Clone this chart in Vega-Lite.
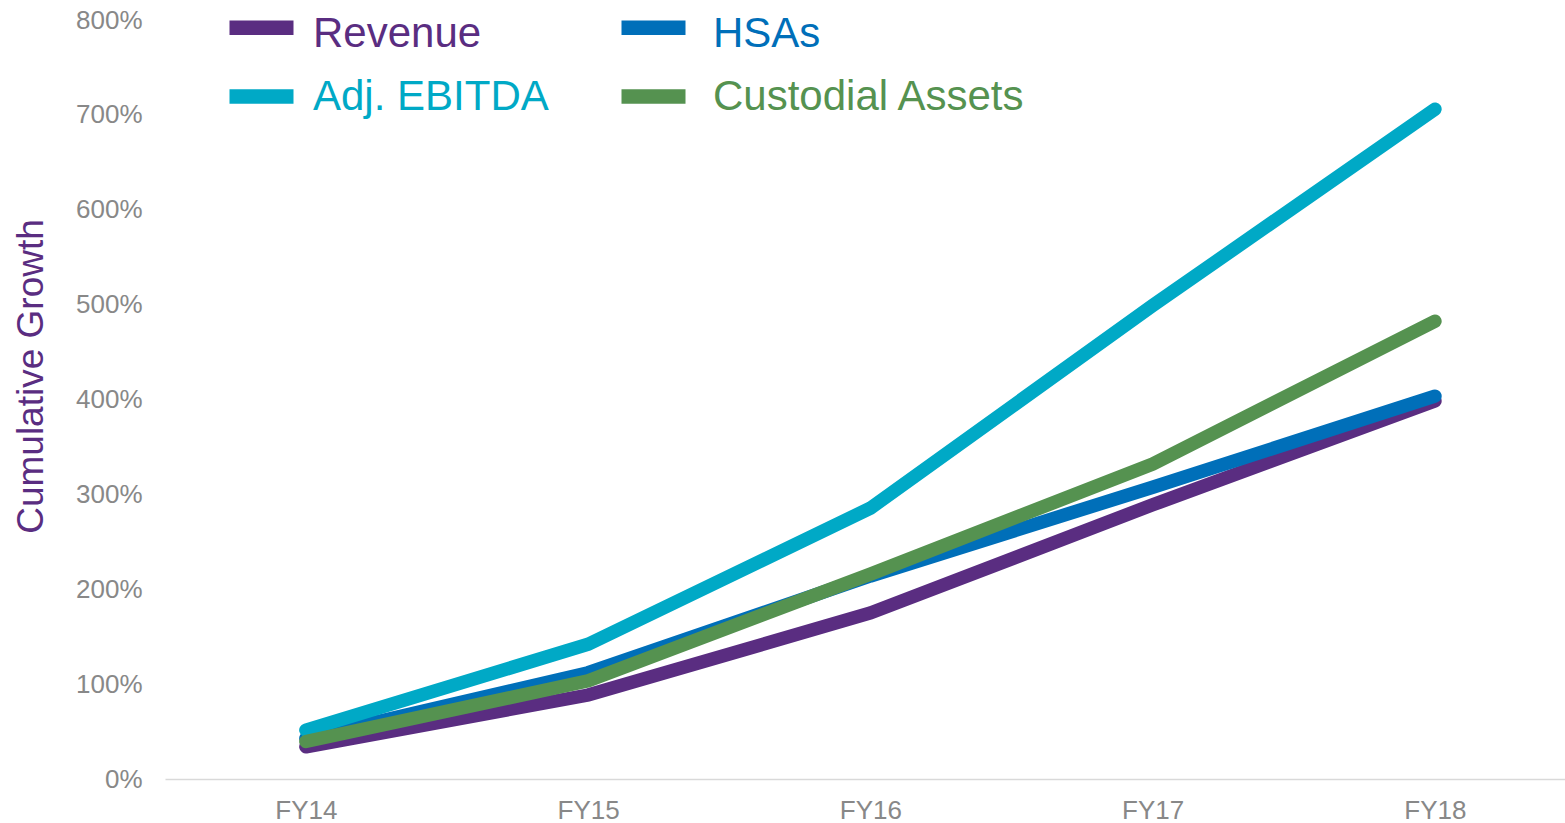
{
  "$schema": "https://vega.github.io/schema/vega-lite/v6.json",
  "autosize": "none",
  "padding": {"left": 165, "top": 20, "right": 0, "bottom": 44},
  "width": 1400,
  "height": 759,
  "background": "white",
  "config": {
    "font": "Liberation Sans",
    "view": {"stroke": null}
  },
  "data": {
    "values": [
      {"year": "FY14", "series": "Revenue", "growth": 0.34},
      {"year": "FY15", "series": "Revenue", "growth": 0.885},
      {"year": "FY16", "series": "Revenue", "growth": 1.75},
      {"year": "FY17", "series": "Revenue", "growth": 2.89},
      {"year": "FY18", "series": "Revenue", "growth": 3.985},
      {"year": "FY14", "series": "HSAs", "growth": 0.43},
      {"year": "FY15", "series": "HSAs", "growth": 1.12},
      {"year": "FY16", "series": "HSAs", "growth": 2.14},
      {"year": "FY17", "series": "HSAs", "growth": 3.075},
      {"year": "FY18", "series": "HSAs", "growth": 4.035},
      {"year": "FY14", "series": "Adj. EBITDA", "growth": 0.515},
      {"year": "FY15", "series": "Adj. EBITDA", "growth": 1.42},
      {"year": "FY16", "series": "Adj. EBITDA", "growth": 2.855},
      {"year": "FY17", "series": "Adj. EBITDA", "growth": 4.99},
      {"year": "FY18", "series": "Adj. EBITDA", "growth": 7.06},
      {"year": "FY14", "series": "Custodial Assets", "growth": 0.395},
      {"year": "FY15", "series": "Custodial Assets", "growth": 1.035},
      {"year": "FY16", "series": "Custodial Assets", "growth": 2.16},
      {"year": "FY17", "series": "Custodial Assets", "growth": 3.32},
      {"year": "FY18", "series": "Custodial Assets", "growth": 4.825}
    ]
  },
  "mark": {"type": "line", "strokeWidth": 13.5, "strokeCap": "round", "strokeJoin": "miter"},
  "encoding": {
    "x": {
      "field": "year",
      "type": "ordinal",
      "scale": {"type": "point", "padding": 0.48, "align": 0.52},
      "axis": {
        "title": null,
        "labelAngle": 0,
        "labelFontSize": 26,
        "labelColor": "#888888",
        "labelPadding": 18,
        "ticks": false,
        "grid": false,
        "domain": true,
        "domainColor": "#d9d9d9",
        "domainWidth": 1.5
      }
    },
    "y": {
      "field": "growth",
      "type": "quantitative",
      "scale": {"domain": [0, 8], "nice": false, "zero": true},
      "axis": {
        "values": [0, 1, 2, 3, 4, 5, 6, 7, 8],
        "format": ".0%",
        "grid": false,
        "domain": false,
        "ticks": false,
        "labelFontSize": 26,
        "labelColor": "#888888",
        "labelPadding": 23,
        "title": "Cumulative Growth",
        "titleFontSize": 37,
        "titleFontWeight": "normal",
        "titleColor": "#5A2D81",
        "titleAlign": "center",
        "titleBaseline": "alphabetic",
        "titleAngle": 270,
        "titleX": -123,
        "titleY": 356
      }
    },
    "color": {
      "field": "series",
      "type": "nominal",
      "sort": ["Revenue", "HSAs", "Adj. EBITDA", "Custodial Assets"],
      "scale": {
        "domain": ["Revenue", "HSAs", "Adj. EBITDA", "Custodial Assets"],
        "range": ["#5A2D81", "#006FB9", "#00A9C6", "#559250"]
      },
      "legend": {
        "title": null,
        "orient": "none",
        "legendX": 57,
        "legendY": -32,
        "direction": "horizontal",
        "columns": 2,
        "padding": 0,
        "symbolType": "stroke",
        "symbolSize": 4096,
        "symbolStrokeWidth": 14.5,
        "labelFontSize": 42,
        "labelOffset": 12,
        "labelLimit": 500,
        "columnPadding": 43,
        "rowPadding": 0,
        "encode": {
          "labels": {
            "update": {
              "fill": {"scale": "color", "field": "value"},
              "dx": {"signal": "datum.value === 'HSAs' || datum.value === 'Custodial Assets' ? 8 : 0"},
              "dy": {"signal": "datum.value === 'Revenue' || datum.value === 'HSAs' ? 6 : 0"}
            }
          }
        }
      }
    }
  }
}
